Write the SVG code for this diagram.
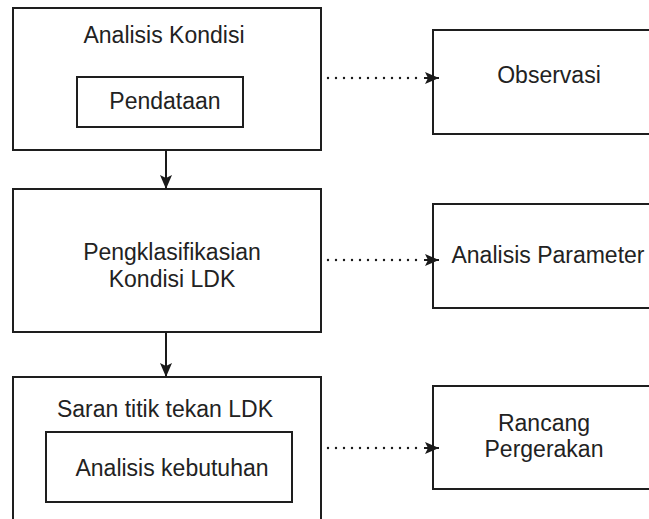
<svg xmlns="http://www.w3.org/2000/svg" width="649" height="519" viewBox="0 0 649 519">
  <defs>
    <marker id="arrow" viewBox="0 0 14 12" refX="14" refY="6" markerWidth="14" markerHeight="12" markerUnits="userSpaceOnUse" orient="auto">
      <path d="M0,0 L14,6 L0,12 L3,6 Z" fill="#1a1a1a"/>
    </marker>
  </defs>
  <style>
    .box { fill: #ffffff; stroke: #1e1e1e; stroke-width: 2; }
    .label { font-family: "Liberation Sans", Arial, sans-serif; font-size: 23px; fill: #222222; text-anchor: middle; }
    .flow { stroke: #1a1a1a; stroke-width: 2; fill: none; }
    .dotted { stroke: #1a1a1a; stroke-width: 2.4; fill: none; stroke-dasharray: 0 8; stroke-linecap: round; }
  </style>
  <rect width="649" height="519" fill="#ffffff"/>

  <!-- left column -->
  <g id="analisis-kondisi">
    <rect class="box" x="13" y="8" width="308" height="142"/>
    <text class="label" x="164" y="43">Analisis Kondisi</text>
  </g>
  <g id="pendataan">
    <rect class="box" x="77" y="77" width="166" height="50"/>
    <text class="label" x="165" y="109">Pendataan</text>
  </g>
  <g id="pengklasifikasian">
    <rect class="box" x="13" y="189" width="308" height="143"/>
    <text class="label" x="172" y="260">Pengklasifikasian</text>
    <text class="label" x="172" y="287">Kondisi LDK</text>
  </g>
  <g id="saran-titik-tekan">
    <rect class="box" x="13" y="377" width="308" height="145"/>
    <text class="label" x="165" y="417">Saran titik tekan LDK</text>
  </g>
  <g id="analisis-kebutuhan">
    <rect class="box" x="46" y="432" width="246" height="70"/>
    <text class="label" x="172" y="476">Analisis kebutuhan</text>
  </g>

  <!-- right column -->
  <g id="observasi">
    <rect class="box" x="433" y="30" width="240" height="104"/>
    <text class="label" x="549" y="83">Observasi</text>
  </g>
  <g id="analisis-parameter">
    <rect class="box" x="433" y="204" width="240" height="104"/>
    <text class="label" x="548" y="263">Analisis Parameter</text>
  </g>
  <g id="rancang-pergerakan">
    <rect class="box" x="433" y="386" width="240" height="103"/>
    <text class="label" x="544" y="431">Rancang</text>
    <text class="label" x="544" y="457">Pergerakan</text>
  </g>

  <!-- connectors -->
  <g id="connectors">
    <line class="flow" x1="166" y1="150" x2="166" y2="189" marker-end="url(#arrow)"/>
    <line class="flow" x1="166" y1="332" x2="166" y2="377" marker-end="url(#arrow)"/>
    <line class="dotted" x1="328" y1="78" x2="424" y2="78"/>
    <line class="dotted" x1="328" y1="260" x2="424" y2="260"/>
    <line class="dotted" x1="328" y1="448" x2="424" y2="448"/>
    <line class="flow" x1="424" y1="78" x2="439" y2="78" marker-end="url(#arrow)"/>
    <line class="flow" x1="424" y1="260" x2="439" y2="260" marker-end="url(#arrow)"/>
    <line class="flow" x1="424" y1="448" x2="439" y2="448" marker-end="url(#arrow)"/>
  </g>
</svg>
